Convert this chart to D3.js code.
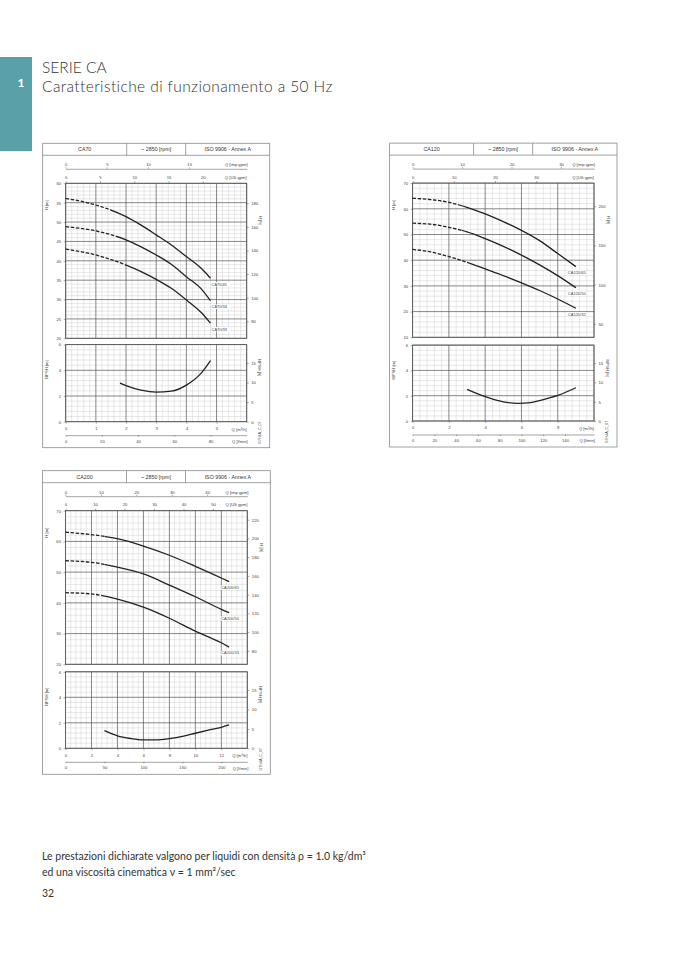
<!DOCTYPE html>
<html>
<head>
<meta charset="utf-8">
<script src="https://cdnjs.cloudflare.com/ajax/libs/d3/7.8.5/d3.min.js"></script>
<style>
body { margin: 0; background: #fff; }
</style>
</head>
<body>
<div id="page"></div>
<script>
var W = 678, H = 959;
var FONT = "Liberation Sans, Arial, sans-serif";
var PAGEFONT = "Lato, 'Open Sans', sans-serif";

// ---- CA70 ----
var ca70Models = ["CA70/45", "CA70/34", "CA70/33"];
var ca70Flow = [0, 1, 2, 2.5, 3, 3.5, 4, 4.5, 4.8];
var ca70Head45 = [56.1, 54.4, 51.4, 49.2, 46.7, 44.1, 41.1, 38.0, 35.5];
var ca70Head34 = [48.8, 47.7, 45.4, 43.6, 41.5, 39.1, 35.9, 32.7, 29.7];
var ca70Head33 = [43.0, 41.5, 38.9, 37.2, 35.2, 32.9, 29.9, 26.6, 23.9];
var ca70NpshFlow = [1.8, 2, 2.5, 3, 3.5, 4, 4.5, 4.8];
var ca70Npsh = [3.0, 2.8, 2.45, 2.3, 2.38, 2.85, 3.8, 4.75];
var ca70HeadTicks = [20, 25, 30, 35, 40, 45, 50, 55, 60];
var ca70FtTicks = [80, 100, 120, 140, 160, 180];
var ca70ImpTicks = [0, 5, 10, 15];
var ca70UsTicks = [0, 5, 10, 15, 20];
var ca70FlowTicks = [0, 1, 2, 3, 4, 5];
var ca70LminTicks = [0, 20, 40, 60, 80];

// ---- CA120 ----
var ca120Models = ["CA120/65", "CA120/50", "CA120/32"];
var ca120Flow = [0, 1, 2, 3, 4, 5, 6, 7, 8, 9];
var ca120Head65 = [64.1, 63.6, 62.5, 60.6, 58.0, 55.0, 51.6, 47.6, 42.6, 37.5];
var ca120Head50 = [54.4, 54.0, 52.8, 51.0, 48.4, 45.4, 42.0, 38.2, 34.0, 29.3];
var ca120Head32 = [44.2, 43.2, 41.4, 39.2, 36.6, 34.0, 31.2, 28.2, 24.9, 21.3];
var ca120NpshFlow = [3, 4, 5, 5.8, 6.5, 7, 8, 9];
var ca120Npsh = [2.5, 1.92, 1.52, 1.4, 1.46, 1.62, 2.02, 2.63];
var ca120HeadTicks = [10, 20, 30, 40, 50, 60, 70];
var ca120FtTicks = [50, 100, 150, 200];
var ca120ImpTicks = [0, 10, 20, 30];
var ca120UsTicks = [0, 10, 20, 30];
var ca120FlowTicks = [0, 2, 4, 6, 8];
var ca120LminTicks = [0, 20, 40, 60, 80, 100, 120, 140];

// ---- CA200 ----
var ca200Models = ["CA200/65", "CA200/50", "CA200/33"];
var ca200Flow = [0, 2, 4, 6, 8, 10, 12, 12.6];
var ca200Head65 = [63.0, 62.2, 60.9, 58.5, 55.5, 51.9, 48.1, 46.9];
var ca200Head50 = [53.7, 53.2, 51.6, 49.4, 45.8, 42.0, 37.9, 36.8];
var ca200Head33 = [43.3, 42.9, 41.2, 38.6, 35.0, 30.8, 27.0, 25.6];
var ca200NpshFlow = [3, 4, 5, 6, 7, 8, 9, 10, 11, 12, 12.6];
var ca200Npsh = [1.38, 0.98, 0.77, 0.66, 0.66, 0.76, 0.93, 1.18, 1.42, 1.65, 1.83];
var ca200HeadTicks = [20, 30, 40, 50, 60, 70];
var ca200FtTicks = [80, 100, 120, 140, 160, 180, 200, 220];
var ca200ImpTicks = [0, 10, 20, 30, 40];
var ca200UsTicks = [0, 10, 20, 30, 40, 50];
var ca200FlowTicks = [0, 2, 4, 6, 8, 10, 12];
var ca200LminTicks = [0, 50, 100, 150, 200];

// shared
var npshTicks = [0, 2, 4, 6];
var npshFtTicks = [0, 5, 10, 15];

var charts = [
  {name: "CA70", left: 65.7, right: 246.7, hTop: 183.3, hBot: 338.3, nTop: 344.6, nBot: 421.7,
   qMax: 6, qMajor: 1, hMin: 20, hMax: 60, hMajor: 5,
   models: ca70Models, flow: ca70Flow, heads: [ca70Head45, ca70Head34, ca70Head33], dashTo: [1.5, 1.7, 2.0],
   npshFlow: ca70NpshFlow, npsh: ca70Npsh, labelDx: 1,
   headTicks: ca70HeadTicks, ftTicks: ca70FtTicks, impTicks: ca70ImpTicks, usTicks: ca70UsTicks,
   flowTicks: ca70FlowTicks, lminTicks: ca70LminTicks},
  {name: "CA120", left: 412.6, right: 594, hTop: 183.1, hBot: 337.3, nTop: 345.1, nBot: 421,
   qMax: 10, qMajor: 2, hMin: 10, hMax: 70, hMajor: 10,
   models: ca120Models, flow: ca120Flow, heads: [ca120Head65, ca120Head50, ca120Head32], dashTo: [2.5, 2.7, 3.0],
   npshFlow: ca120NpshFlow, npsh: ca120Npsh, labelDx: -8,
   headTicks: ca120HeadTicks, ftTicks: ca120FtTicks, impTicks: ca120ImpTicks, usTicks: ca120UsTicks,
   flowTicks: ca120FlowTicks, lminTicks: ca120LminTicks},
  {name: "CA200", left: 65.5, right: 247.3, hTop: 510.7, hBot: 664.3, nTop: 671.8, nBot: 748.3,
   qMax: 14, qMajor: 2, hMin: 20, hMax: 70, hMajor: 10,
   models: ca200Models, flow: ca200Flow, heads: [ca200Head65, ca200Head50, ca200Head33], dashTo: [3.0, 3.0, 2.8],
   npshFlow: ca200NpshFlow, npsh: ca200Npsh, labelDx: -8,
   headTicks: ca200HeadTicks, ftTicks: ca200FtTicks, impTicks: ca200ImpTicks, usTicks: ca200UsTicks,
   flowTicks: ca200FlowTicks, lminTicks: ca200LminTicks}
];

var svg = d3.select("#page").append("svg")
    .attr("width", W)
    .attr("height", H);
var defs = svg.append("defs");

// page header
svg.append("rect").attr("x", 0).attr("y", 57).attr("width", 32).attr("height", 94).attr("fill", "#5aa0a8");
svg.append("text").attr("x", 21).attr("y", 87).attr("text-anchor", "middle")
    .attr("font-family", PAGEFONT).attr("font-weight", "bold").attr("font-size", 12).attr("fill", "#fff").text("1");
svg.append("text").attr("x", 42).attr("y", 73)
    .attr("font-family", PAGEFONT).attr("font-weight", 300).attr("font-size", 15.5).attr("fill", "#333").text("SERIE CA");
svg.append("text").attr("x", 42).attr("y", 92)
    .attr("font-family", PAGEFONT).attr("font-weight", 300).attr("font-size", 15.5).attr("letter-spacing", 0.4)
    .attr("fill", "#333")
    .text("Caratteristiche di funzionamento a 50 Hz");

// footer
var foot = ["Le prestazioni dichiarate valgono per liquidi con densità ρ = 1.0 kg/dm³",
            "ed una viscosità cinematica ν = 1 mm²/sec"];
svg.selectAll("text.foot").data(foot).enter().append("text")
    .attr("class", "foot")
    .attr("x", 42)
    .attr("y", function(d, i) { return 860 + i * 16; })
    .attr("font-family", PAGEFONT).attr("font-size", 10.5).attr("fill", "#333")
    .text(function(d) { return d; });
svg.append("text").attr("x", 42).attr("y", 897)
    .attr("font-family", PAGEFONT).attr("font-size", 10.5).attr("fill", "#333").text("32");

var plain = function(d) { return d; };

function styleAxis(sel, keepDomain) {
    sel.attr("font-family", null).attr("font-size", null);
    sel.selectAll("text").attr("font-size", 4.2).attr("font-family", FONT).attr("fill", "#444");
    sel.selectAll("line").attr("stroke", "#555").attr("stroke-width", 0.5);
    if (keepDomain) sel.select(".domain").attr("stroke", "#666").attr("stroke-width", 0.6);
    else sel.select(".domain").remove();
}

function isMajor(v, step) {
    return Math.abs(v / step - Math.round(v / step)) < 1e-6;
}

function grid(g, x, y, qMax, qMajor, yMin, yMax, yMajor) {
    var xs = d3.range(0, qMax + 1e-6, qMajor / 5);
    var ys = d3.range(yMin, yMax + 1e-6, yMajor / 5);
    var y0 = y(yMin), y1 = y(yMax), x0 = x(0), x1 = x(qMax);
    var minor = g.append("g").attr("stroke", "#c4c4c4").attr("stroke-width", 0.4);
    var major = g.append("g").attr("stroke", "#555").attr("stroke-width", 0.7);
    xs.forEach(function(v) {
        (isMajor(v, qMajor) ? major : minor).append("line")
            .attr("x1", x(v)).attr("x2", x(v)).attr("y1", y0).attr("y2", y1);
    });
    ys.forEach(function(v) {
        (isMajor(v - yMin, yMajor) ? major : minor).append("line")
            .attr("x1", x0).attr("x2", x1).attr("y1", y(v)).attr("y2", y(v));
    });
    g.append("rect").attr("x", x0).attr("y", y1).attr("width", x1 - x0).attr("height", y0 - y1)
        .attr("fill", "none").attr("stroke", "#555").attr("stroke-width", 0.8);
}

function smallText(g, x, y, txt, anchor, rot) {
    var t = g.append("text")
        .attr("font-family", FONT).attr("font-size", 4.2).attr("fill", "#444")
        .attr("text-anchor", anchor || "start").attr("dy", "0.35em")
        .text(txt);
    if (rot) t.attr("transform", "translate(" + x + "," + y + ") rotate(" + rot + ")");
    else t.attr("x", x).attr("y", y);
    return t;
}

function drawChart(c) {
    var g = svg.append("g").attr("class", c.name);
    var x = d3.scaleLinear().domain([0, c.qMax]).range([c.left, c.right]);
    var y = d3.scaleLinear().domain([c.hMin, c.hMax]).range([c.hBot, c.hTop]);
    var yFt = d3.scaleLinear().domain([c.hMin * 3.2808, c.hMax * 3.2808]).range([c.hBot, c.hTop]);
    var yN = d3.scaleLinear().domain([0, 6]).range([c.nBot, c.nTop]);
    var yNFt = d3.scaleLinear().domain([0, 6 * 3.2808]).range([c.nBot, c.nTop]);
    var xImp = d3.scaleLinear().domain([0, c.qMax * 3.6662]).range([c.left, c.right]);
    var xUs = d3.scaleLinear().domain([0, c.qMax * 4.4029]).range([c.left, c.right]);
    var xL = d3.scaleLinear().domain([0, c.qMax * 16.667]).range([c.left, c.right]);

    var boxL = c.left - 23, boxR = c.right + 23, boxT = c.hTop - 40, boxB = c.nBot + 26;

    // frame and header
    g.append("rect").attr("x", boxL).attr("y", boxT).attr("width", boxR - boxL).attr("height", boxB - boxT)
        .attr("fill", "none").attr("stroke", "#8a8a8a").attr("stroke-width", 0.8);
    g.append("line").attr("x1", boxL).attr("x2", boxR).attr("y1", boxT + 12).attr("y2", boxT + 12)
        .attr("stroke", "#8a8a8a").attr("stroke-width", 0.8);
    [84, 143].forEach(function(dx) {
        g.append("line").attr("x1", boxL + dx).attr("x2", boxL + dx).attr("y1", boxT).attr("y2", boxT + 12)
            .attr("stroke", "#8a8a8a").attr("stroke-width", 0.8);
    });
    var heads = [[c.name, 42], ["~ 2850 [rpm]", 113.5], ["ISO 9906 - Annex A", (143 + boxR - boxL) / 2]];
    heads.forEach(function(h) {
        g.append("text").attr("x", boxL + h[1]).attr("y", boxT + 6).attr("dy", "0.35em")
            .attr("text-anchor", "middle").attr("font-family", FONT).attr("font-size", 5.3)
            .attr("fill", "#333").text(h[0]);
    });

    // grids
    grid(g, x, y, c.qMax, c.qMajor, c.hMin, c.hMax, c.hMajor);
    grid(g, x, yN, c.qMax, c.qMajor, 0, 6, 2);

    // axes
    g.append("g").attr("transform", "translate(0," + (c.hTop - 14.5) + ")")
        .call(d3.axisTop(xImp).tickValues(c.impTicks).tickFormat(plain).tickSize(1.5).tickPadding(1.2).tickSizeOuter(0))
        .call(styleAxis, true);
    g.append("g").attr("transform", "translate(0," + c.hTop + ")")
        .call(d3.axisTop(xUs).tickValues(c.usTicks).tickFormat(plain).tickSize(2).tickPadding(2.3).tickSizeOuter(0))
        .call(styleAxis, false);
    g.append("g").attr("transform", "translate(" + c.left + ",0)")
        .call(d3.axisLeft(y).tickValues(c.headTicks).tickFormat(plain).tickSize(2).tickPadding(2.5))
        .call(styleAxis, false);
    g.append("g").attr("transform", "translate(" + c.right + ",0)")
        .call(d3.axisRight(yFt).tickValues(c.ftTicks).tickFormat(plain).tickSize(2).tickPadding(2.5))
        .call(styleAxis, false);
    g.append("g").attr("transform", "translate(" + c.left + ",0)")
        .call(d3.axisLeft(yN).tickValues(npshTicks).tickFormat(plain).tickSize(2).tickPadding(2.5))
        .call(styleAxis, false);
    g.append("g").attr("transform", "translate(" + c.right + ",0)")
        .call(d3.axisRight(yNFt).tickValues(npshFtTicks).tickFormat(plain).tickSize(2).tickPadding(2.5))
        .call(styleAxis, false);
    g.append("g").attr("transform", "translate(0," + c.nBot + ")")
        .call(d3.axisBottom(x).tickValues(c.flowTicks).tickFormat(plain).tickSize(2).tickPadding(3.5))
        .call(styleAxis, false);
    g.append("g").attr("transform", "translate(0," + (c.nBot + 13.5) + ")")
        .call(d3.axisBottom(xL).tickValues(c.lminTicks).tickFormat(plain).tickSize(1.5).tickPadding(3).tickSizeOuter(0))
        .call(styleAxis, true);

    // axis titles
    smallText(g, c.right + 1, c.hTop - 18.5, "Q [imp gpm]", "end");
    smallText(g, c.right, c.hTop - 6, "Q [US gpm]", "end");
    smallText(g, c.right, c.nBot + 7.5, "Q [m³/h]", "end");
    smallText(g, c.right + 1, c.nBot + 20, "Q [l/min]", "end");
    smallText(g, c.left - 19, c.hTop + 22, "H [m]", "middle", -90);
    smallText(g, c.right + 14, c.hTop + 37, "H [ft]", "middle", 90);
    smallText(g, c.left - 19, c.nTop + 25, "NPSH [m]", "middle", -90);
    smallText(g, c.right + 13, c.nTop + 23, "NPSH [ft]", "middle", 90);
    smallText(g, c.right + 13, c.nBot + 11, "G7H4A_C_07", "middle", -90).attr("font-size", 3.6);

    // head curves: dashed at low flow, solid after
    var line = d3.line()
        .x(function(d) { return x(d[0]); })
        .y(function(d) { return y(d[1]); })
        .curve(d3.curveMonotoneX);
    c.heads.forEach(function(hd, i) {
        var pts = d3.zip(c.flow, hd);
        var xd = x(c.dashTo[i]);
        var id = c.name + "_" + i;
        defs.append("clipPath").attr("id", id + "d").append("rect")
            .attr("x", c.left - 3).attr("y", c.hTop - 5).attr("width", xd - c.left + 3).attr("height", c.hBot - c.hTop + 10);
        defs.append("clipPath").attr("id", id + "s").append("rect")
            .attr("x", xd).attr("y", c.hTop - 5).attr("width", c.right - xd + 3).attr("height", c.hBot - c.hTop + 10);
        g.append("path").attr("d", line(pts)).attr("clip-path", "url(#" + id + "d)")
            .attr("fill", "none").attr("stroke", "#222").attr("stroke-width", 1.3)
            .attr("stroke-dasharray", "3.5,1.6");
        g.append("path").attr("d", line(pts)).attr("clip-path", "url(#" + id + "s)")
            .attr("fill", "none").attr("stroke", "#222").attr("stroke-width", 1.3);
        var last = pts[pts.length - 1];
        g.append("rect").attr("x", x(last[0]) + c.labelDx - 0.5).attr("y", y(last[1]) + 3.8)
            .attr("width", 19).attr("height", 4.4).attr("fill", "#fff");
        smallText(g, x(last[0]) + c.labelDx, y(last[1]) + 6, c.models[i], "start").attr("font-size", 4);
    });

    // NPSH curve
    var nline = d3.line()
        .x(function(d) { return x(d[0]); })
        .y(function(d) { return yN(d[1]); })
        .curve(d3.curveMonotoneX);
    g.append("path").attr("d", nline(d3.zip(c.npshFlow, c.npsh)))
        .attr("fill", "none").attr("stroke", "#222").attr("stroke-width", 1.3);
}

charts.forEach(drawChart);
</script>
</body>
</html>
